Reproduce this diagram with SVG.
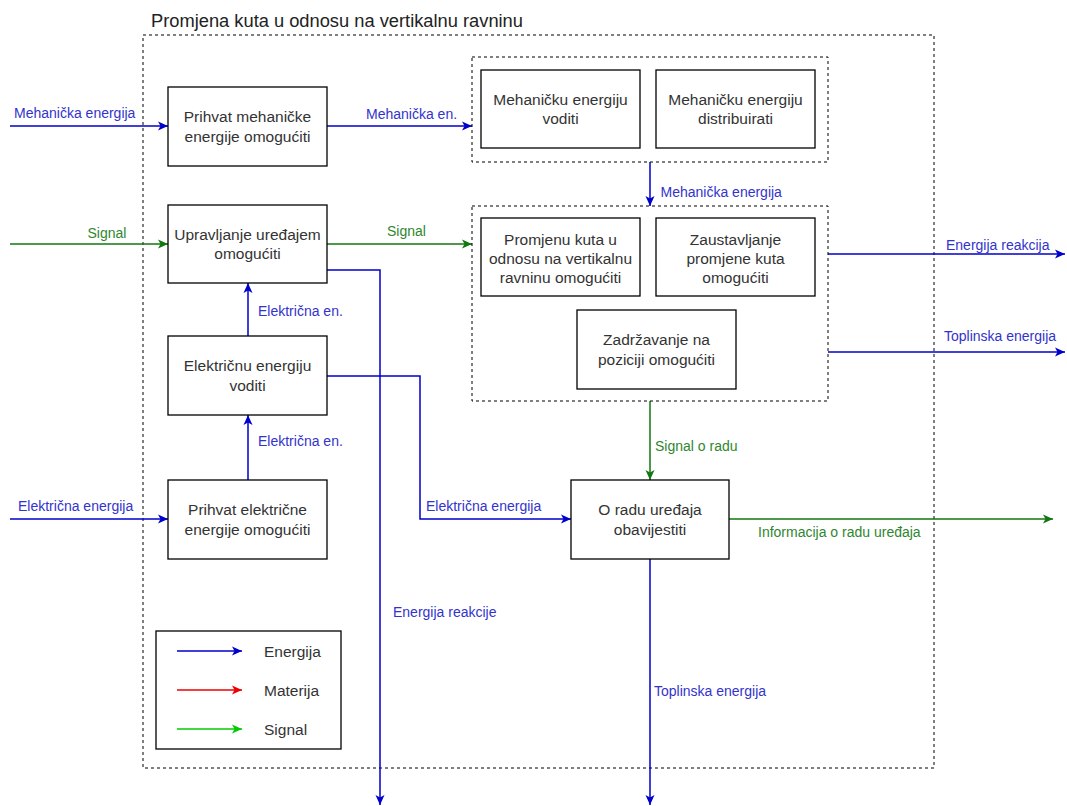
<svg xmlns="http://www.w3.org/2000/svg" width="1067" height="806" viewBox="0 0 1067 806">
<style>
.frame{fill:none;stroke:#000;stroke-width:1;stroke-dasharray:3 3}
.box{fill:#fff;stroke:#000;stroke-width:1.3}
.bt{font-family:"Liberation Sans",Arial,sans-serif;font-size:15.5px;fill:#333;text-anchor:middle}
.lb{font-family:"Liberation Sans",Arial,sans-serif;font-size:14px;fill:#3333CC}
.lg{font-family:"Liberation Sans",Arial,sans-serif;font-size:14px;fill:#2f862f}
.title{font-family:"Liberation Sans",Arial,sans-serif;font-size:18.3px;fill:#222}
.eb{fill:none;stroke:#0000CC;stroke-width:1.5;marker-end:url(#ab)}
.eg{fill:none;stroke:#117711;stroke-width:1.5;marker-end:url(#ag)}
.lgt{font-family:"Liberation Sans",Arial,sans-serif;font-size:15.5px;fill:#333}
</style>
<defs>
<marker id="ab" markerUnits="userSpaceOnUse" markerWidth="12" markerHeight="10" viewBox="-10 -5 12 10" refX="0" refY="0" orient="auto"><path d="M-10,-4.5 L0,0 L-10,4.5 L-7.5,0 Z" fill="#0000CC"/></marker>
<marker id="ag" markerUnits="userSpaceOnUse" markerWidth="12" markerHeight="10" viewBox="-10 -5 12 10" refX="0" refY="0" orient="auto"><path d="M-10,-4.5 L0,0 L-10,4.5 L-7.5,0 Z" fill="#117711"/></marker>
<marker id="ar" markerUnits="userSpaceOnUse" markerWidth="12" markerHeight="10" viewBox="-10 -5 12 10" refX="0" refY="0" orient="auto"><path d="M-10,-4.5 L0,0 L-10,4.5 L-7.5,0 Z" fill="#EE0000"/></marker>
<marker id="agl" markerUnits="userSpaceOnUse" markerWidth="12" markerHeight="10" viewBox="-10 -5 12 10" refX="0" refY="0" orient="auto"><path d="M-10,-4.5 L0,0 L-10,4.5 L-7.5,0 Z" fill="#00CC00"/></marker>
</defs>
<rect width="1067" height="806" fill="#fff"/>
<g id="frame">
<rect class="frame" x="143" y="35" width="791" height="733"/>
<text class="title" x="151" y="27">Promjena kuta u odnosu na vertikalnu ravninu</text>
</g>
<g id="connectors">
<path class="eb" d="M10,126 H168"/>
<path class="eb" d="M327,126 H472"/>
<path class="eb" d="M650,162 V206"/>
<path class="eg" d="M10,244 H168"/>
<path class="eg" d="M327,244 H472"/>
<path class="eb" d="M327,270 H380 V805"/>
<path class="eb" d="M248,336 V283"/>
<path class="eb" d="M248,480 V415"/>
<path class="eb" d="M10,519 H168"/>
<path class="eb" d="M327,376 H420 V519 H571"/>
<path class="eg" d="M650,401 V480"/>
<path class="eg" d="M729,519 H1053"/>
<path class="eb" d="M650,559 V805"/>
<path class="eb" d="M828,254 H1065"/>
<path class="eb" d="M828,352 H1065"/>
<text class="lb" x="14" y="118">Mehanička energija</text>
<text class="lb" x="366" y="118.5">Mehanička en.</text>
<text class="lb" x="660.5" y="196.5">Mehanička energija</text>
<text class="lg" x="87.5" y="238">Signal</text>
<text class="lg" x="387" y="236">Signal</text>
<text class="lb" x="258" y="316">Električna en.</text>
<text class="lb" x="258" y="445.5">Električna en.</text>
<text class="lb" x="18" y="511">Električna energija</text>
<text class="lb" x="426" y="511">Električna energija</text>
<text class="lb" x="946" y="249.5">Energija reakcija</text>
<text class="lb" x="944" y="341">Toplinska energija</text>
<text class="lg" x="655" y="451">Signal o radu</text>
<text class="lg" x="758" y="537">Informacija o radu uređaja</text>
<text class="lb" x="393" y="617">Energija reakcije</text>
<text class="lb" x="654" y="695.5">Toplinska energija</text>
</g>
<g id="n-prihvat-meh">
<rect class="box" x="168" y="87" width="159" height="79"/>
<text class="bt" x="247.5" y="122.2">Prihvat mehaničke</text>
<text class="bt" x="247.5" y="141.7">energije omogućiti</text>
</g>
<g id="n-upravljanje">
<rect class="box" x="168" y="205" width="159" height="78"/>
<text class="bt" x="247.5" y="239.8">Upravljanje uređajem</text>
<text class="bt" x="247.5" y="259.3">omogućiti</text>
</g>
<g id="n-el-voditi">
<rect class="box" x="168" y="336" width="159" height="79"/>
<text class="bt" x="247.5" y="371.2">Električnu energiju</text>
<text class="bt" x="247.5" y="390.7">voditi</text>
</g>
<g id="n-prihvat-el">
<rect class="box" x="168" y="480" width="159" height="79"/>
<text class="bt" x="247.5" y="515.2">Prihvat električne</text>
<text class="bt" x="247.5" y="534.7">energije omogućiti</text>
</g>
<g id="g-meh">
<rect class="frame" x="472" y="57" width="356" height="105"/>
</g>
<g id="n-meh-voditi">
<rect class="box" x="481" y="70" width="159" height="78"/>
<text class="bt" x="560.5" y="104.8">Mehaničku energiju</text>
<text class="bt" x="560.5" y="124.3">voditi</text>
</g>
<g id="n-meh-distr">
<rect class="box" x="656" y="70" width="159" height="78"/>
<text class="bt" x="735.5" y="104.8">Mehaničku energiju</text>
<text class="bt" x="735.5" y="124.3">distribuirati</text>
</g>
<g id="g-kut">
<rect class="frame" x="472" y="206" width="356" height="195"/>
</g>
<g id="n-promjenu">
<rect class="box" x="481" y="218" width="159" height="78"/>
<text class="bt" x="560.5" y="244.8">Promjenu kuta u</text>
<text class="bt" x="560.5" y="263.8">odnosu na vertikalnu</text>
<text class="bt" x="560.5" y="282.8">ravninu omogućiti</text>
</g>
<g id="n-zaustavljanje">
<rect class="box" x="656" y="218" width="159" height="78"/>
<text class="bt" x="735.5" y="244.8">Zaustavljanje</text>
<text class="bt" x="735.5" y="263.8">promjene kuta</text>
<text class="bt" x="735.5" y="282.8">omogućiti</text>
</g>
<g id="n-zadrzavanje">
<rect class="box" x="577" y="310" width="159" height="79"/>
<text class="bt" x="656.5" y="345.2">Zadržavanje na</text>
<text class="bt" x="656.5" y="364.7">poziciji omogućiti</text>
</g>
<g id="n-obavijestiti">
<rect class="box" x="571" y="480" width="158" height="79"/>
<text class="bt" x="650" y="515.2">O radu uređaja</text>
<text class="bt" x="650" y="534.7">obavijestiti</text>
</g>
<g id="legend">
<rect class="box" x="156" y="631" width="185" height="118"/>
<path d="M177,651 H242" fill="none" stroke="#0000CC" stroke-width="1.5" marker-end="url(#ab)"/>
<path d="M177,690 H242" fill="none" stroke="#EE0000" stroke-width="1.5" marker-end="url(#ar)"/>
<path d="M177,729 H242" fill="none" stroke="#00CC00" stroke-width="1.5" marker-end="url(#agl)"/>
<text class="lgt" x="264" y="656.5">Energija</text>
<text class="lgt" x="264" y="695.5">Materija</text>
<text class="lgt" x="264" y="734.5">Signal</text>
</g>
</svg>
